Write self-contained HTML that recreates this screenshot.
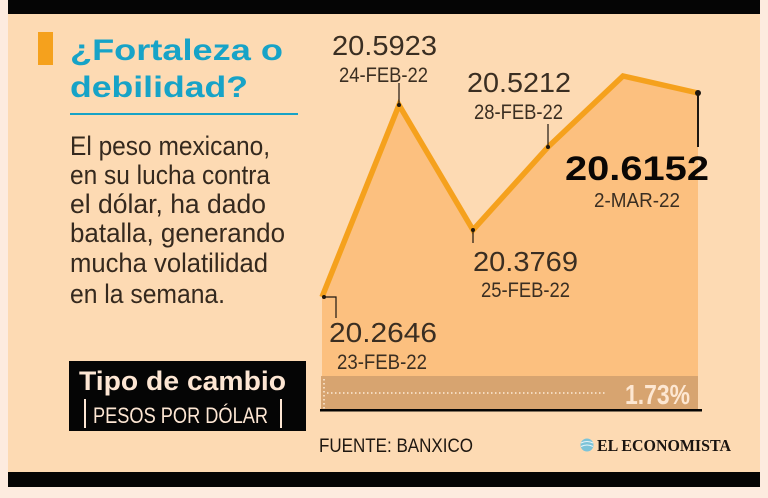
<!DOCTYPE html>
<html>
<head>
<meta charset="utf-8">
<style>
html,body{margin:0;padding:0;background:#fdebdf;}
svg{display:block;}
text{font-family:"Liberation Sans",sans-serif;}
</style>
</head>
<body>
<svg width="768" height="498" viewBox="0 0 768 498" xmlns="http://www.w3.org/2000/svg">
  <!-- background -->
  <rect x="0" y="0" width="768" height="498" fill="#fdebdf"/>
  <rect x="8" y="14" width="752" height="458" fill="#fddab3"/>
  <rect x="8" y="0" width="752" height="14" fill="#050505"/>
  <rect x="8" y="472" width="752" height="15" fill="#050505"/>

  <!-- title -->
  <rect x="38" y="32" width="15" height="33" fill="#f5a11d"/>
  <text x="70" y="60" font-size="30" font-weight="bold" fill="#17a3c7" textLength="213" lengthAdjust="spacingAndGlyphs">¿Fortaleza o</text>
  <text x="70" y="97" font-size="30" font-weight="bold" fill="#17a3c7" textLength="178" lengthAdjust="spacingAndGlyphs">debilidad?</text>
  <rect x="70" y="113" width="228" height="2" fill="#17a3c7"/>

  <!-- body -->
  <g font-size="27" fill="#35291e">
    <text x="70" y="155" textLength="200" lengthAdjust="spacingAndGlyphs">El peso mexicano,</text>
    <text x="70" y="184" textLength="200" lengthAdjust="spacingAndGlyphs">en su lucha contra</text>
    <text x="70" y="213" textLength="196" lengthAdjust="spacingAndGlyphs">el dólar, ha dado</text>
    <text x="70" y="242" textLength="215" lengthAdjust="spacingAndGlyphs">batalla, generando</text>
    <text x="70" y="272" textLength="198" lengthAdjust="spacingAndGlyphs">mucha volatilidad</text>
    <text x="70" y="303" textLength="155" lengthAdjust="spacingAndGlyphs">en la semana.</text>
  </g>

  <!-- label box -->
  <rect x="69" y="361" width="237" height="70" fill="#050505"/>
  <text x="79" y="390" font-size="27" font-weight="bold" fill="#fde6d3" textLength="207" lengthAdjust="spacingAndGlyphs">Tipo de cambio</text>
  <rect x="84" y="399" width="2" height="29" fill="#fde6d3"/>
  <rect x="280" y="399" width="2" height="29" fill="#fde6d3"/>
  <text x="93" y="423" font-size="22" fill="#fde6d3" textLength="175" lengthAdjust="spacingAndGlyphs">PESOS POR DÓLAR</text>

  <!-- chart area -->
  <polygon points="322,297 399,105 473,230 548,147 623,77 698,93 698,410 322,410" fill="#fcc07f"/>
  <rect x="321" y="376" width="377" height="34" fill="#d7a470"/>
  <line x1="327" y1="393" x2="607" y2="393" stroke="#fdebd8" stroke-width="1.5" stroke-dasharray="1.5 2.5"/>
  <line x1="324" y1="379" x2="324" y2="409" stroke="#fdebd8" stroke-width="1.5" stroke-dasharray="1.5 2.5"/>
  <text x="625" y="404" font-size="28" font-weight="bold" fill="#fde7d2" textLength="65" lengthAdjust="spacingAndGlyphs">1.73%</text>
  <rect x="320" y="409" width="382" height="2.5" fill="#050505"/>

  <polyline points="322,297 399,105 473,230 548,147 623,76 698,93" fill="none" stroke="#f5a11d" stroke-width="5.5" stroke-linejoin="miter" stroke-linecap="butt"/>

  <!-- leaders -->
  <g stroke="#1e1710" fill="none">
    <polyline points="324,297 336,297 336,318" stroke-width="1.2"/>
    <line x1="399" y1="105" x2="399" y2="83" stroke-width="1.2"/>
    <line x1="473" y1="230" x2="473" y2="243" stroke-width="1.2"/>
    <line x1="548" y1="147" x2="548" y2="124" stroke-width="1.2"/>
    <line x1="698" y1="93" x2="698" y2="147" stroke-width="2"/>
  </g>
  <g fill="#1e1710">
    <circle cx="324" cy="297" r="2"/>
    <circle cx="399" cy="105" r="2"/>
    <circle cx="473" cy="230" r="2"/>
    <circle cx="548" cy="147" r="2"/>
    <circle cx="698" cy="93" r="3"/>
  </g>

  <!-- labels -->
  <g fill="#3a2e22">
    <text x="332" y="55" font-size="28" textLength="105" lengthAdjust="spacingAndGlyphs">20.5923</text>
    <text x="339" y="82" font-size="21" textLength="89" lengthAdjust="spacingAndGlyphs">24-FEB-22</text>
    <text x="467" y="92" font-size="28" textLength="104" lengthAdjust="spacingAndGlyphs">20.5212</text>
    <text x="474" y="119" font-size="21" textLength="89" lengthAdjust="spacingAndGlyphs">28-FEB-22</text>
    <text x="565" y="180" font-size="34" font-weight="bold" fill="#0a0705" textLength="144" lengthAdjust="spacingAndGlyphs">20.6152</text>
    <text x="594" y="207" font-size="20" textLength="86" lengthAdjust="spacingAndGlyphs">2-MAR-22</text>
    <text x="473" y="271" font-size="28" textLength="105" lengthAdjust="spacingAndGlyphs">20.3769</text>
    <text x="481" y="297" font-size="21" textLength="89" lengthAdjust="spacingAndGlyphs">25-FEB-22</text>
    <text x="329" y="342" font-size="28" textLength="108" lengthAdjust="spacingAndGlyphs">20.2646</text>
    <text x="337" y="369" font-size="21" textLength="90" lengthAdjust="spacingAndGlyphs">23-FEB-22</text>
  </g>

  <!-- footer -->
  <text x="319" y="452" font-size="19" fill="#1e1710" textLength="154" lengthAdjust="spacingAndGlyphs">FUENTE: BANXICO</text>
  <circle cx="587" cy="445" r="6.5" fill="#7cc3d8"/>
  <path d="M581,443 q6,-3 12,0 M581,446.5 q6,-3 12,0" stroke="#e8f4f8" stroke-width="1" fill="none"/>
  <text x="597" y="451" font-size="17" font-weight="bold" fill="#1a1410" style="font-family:'Liberation Serif',serif" textLength="134" lengthAdjust="spacingAndGlyphs">EL ECONOMISTA</text>
</svg>
</body>
</html>
